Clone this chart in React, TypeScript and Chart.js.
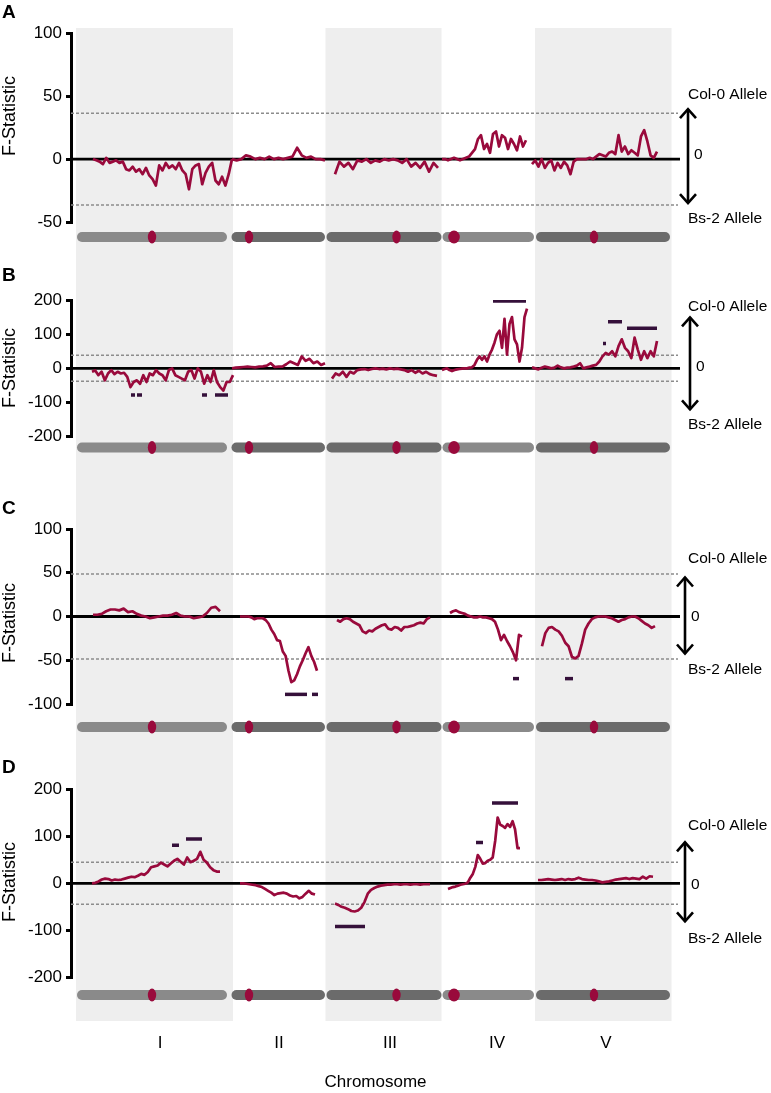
import React, { useEffect, useRef } from "react";
import { Chart, registerables } from "chart.js";

Chart.register(...registerables);

const FONT = "'Liberation Sans', Arial, Helvetica, sans-serif";
const TRACE_COLOR = "#990a3c";
const QTL_COLOR = "#35103a";
const BAND_COLOR = "#eeeeee";
const THRESH_COLOR = "#8c8c8c";

// ---- Genome axis (concatenated chromosomes, Mb-like units) ----
const CHROMOSOMES = ["I", "II", "III", "IV", "V"];
const CHROM_START = [0.2, 31.1, 50.1, 73.3, 92.0];
const CHROM_END = [30.2, 49.8, 73.1, 91.6, 118.8];
const CENTROMERE = [15.2, 34.6, 64.1, 75.6, 103.6];
const CHROM_LABEL_POS = [16.8, 40.6, 62.8, 84.2, 106.0];
const SHADE_START = [0, 49.9, 91.8];
const SHADE_END = [31.4, 73.1, 119.1];
const X_MIN = -1;
const X_MAX = 120.8;

// ---- Panel A ----
const A_I = [0, -1, -2, -4, 1, -3, -2, -1, -3, -2, -8, -9, -6, -10, -8, -12, -7, -13, -16, -21, -5, -9, -3, -7, -5, -8, -3, -9, -12, -24, -8, -5, -4, -20, -11, -6, -3, -17, -20, -14, -21, -12, 0];
const A_II = [0, -1, 0, 3, 2, 0, 1, 0, 2, 0, 1, 0, 1, 2, 9, 3, 1, 2, 0, 0, -1];
const A_III = [-12, -2, -6, -3, -8, -1, -2, 0, -3, -1, -2, 0, -1, 0, -1, -3, 0, -6, -3, -7, -2, -10, -3, -7];
const A_IV = [0, 0, -1, 0, 1, 0, -1, 0, 1, 2, 5, 8, 16, 19, 8, 12, 5, 20, 22, 10, 19, 17, 8, 16, 12, 7, 18, 10, 15];
const A_V = [-4, -1, -6, 0, -7, -3, -1, -9, -3, -7, -2, -5, -12, -2, 0, 0, 0, 0, 1, 0, 2, 4, 3, 2, 5, 6, 4, 19, 6, 10, 4, 7, 5, 3, 18, 23, 14, 3, 1, 6];
const A_TRACE_START = [3.4, 31.2, 51.8, 73.2, 91.2];
const A_TRACE_END = [31.2, 49.8, 72.4, 90.0, 116.2];
const A_QTL_START: number[] = [];
const A_QTL_END: number[] = [];
const A_QTL_VALUE: number[] = [];
const A_TICKS = [-50, 0, 50, 100];

// ---- Panel B ----
const B_I = [-10, -6, -20, -10, -35, -15, -5, -17, -10, -15, -13, -25, -55, -40, -35, -45, -20, -40, -15, -20, -5, -15, -20, -35, -5, 0, -20, -25, -30, -35, -10, -5, -30, 0, -10, -45, -20, -40, -5, -40, -55, -65, -40, -40, -20];
const B_II = [0, 2, 3, 4, 5, 4, 3, 5, 6, 8, 15, 4, 5, 5, 12, 20, 15, 10, 35, 22, 28, 15, 20, 10, 15];
const B_III = [-30, -15, -20, -10, -25, -10, -15, -5, -3, -2, -5, -2, 0, -2, -1, -3, 0, -2, -1, -3, -5, -10, -5, -13, -7, -15, -10, -17, -20, -22];
const B_IV = [-5, -2, 0, -5, -8, -5, -3, -2, -1, 0, 0, 2, 3, 10, 25, 35, 25, 35, 20, 40, 55, 75, 100, 110, 60, 145, 40, 130, 150, 85, 70, 20, 60, 150, 175];
const B_V = [3, 0, -3, 2, 5, 3, 0, 2, 8, 3, 0, 2, 3, 5, 8, 15, 0, 3, 5, 8, 10, 20, 35, 45, 40, 50, 35, 65, 85, 60, 50, 30, 90, 55, 25, 50, 30, 50, 35, 80];
const B_TRACE_START = [3.2, 31.2, 51.2, 73.2, 91.2];
const B_TRACE_END = [31.4, 49.8, 72.2, 90.2, 116.2];
const B_QTL_START = [11, 12.2, 25.2, 27.8, 83.4, 105.4, 106.4, 110.2];
const B_QTL_END = [11.8, 13.2, 26.2, 30.4, 90, 106, 109.2, 116.2];
const B_QTL_VALUE = [-78, -78, -78, -78, 197, 73, 136, 117];
const B_TICKS = [-200, -100, 0, 100, 200];

// ---- Panel C ----
const C_I = [2, 2, 3, 6, 8, 8, 7, 9, 5, 6, 3, 1, 0, -2, -1, 0, 1, 1, 2, 4, 1, 0, 0, -2, -1, 0, 4, 10, 11, 6];
const C_II = [0, 0, 0, 0, -1, -3, -2, -2, -2, -4, -8, -15, -20, -27, -28, -40, -45, -62, -75, -73, -66, -57, -50, -42, -35, -45, -52, -62];
const C_III = [-4, -6, -3, -2, -3, -6, -8, -10, -17, -19, -16, -17, -14, -12, -10, -9, -14, -15, -12, -13, -16, -12, -12, -11, -10, -8, -7, -8, -3, -1];
const C_IV = [4, 6, 7, 5, 4, 3, 1, 0, -1, -1, 0, -1, -1, -2, -3, -6, -15, -27, -21, -28, -34, -41, -50, -21, -23];
const C_V = [-34, -19, -13, -12, -15, -17, -22, -30, -34, -46, -48, -45, -31, -15, -8, -3, -1, 0, 0, 0, -1, -2, -4, -6, -4, -3, -1, 0, 0, -2, -5, -8, -10, -13, -11];
const C_TRACE_START = [3.4, 32.8, 52.2, 74.8, 93.2];
const C_TRACE_END = [28.8, 48.2, 70.8, 89.2, 115.8];
const C_QTL_START = [41.8, 47.2, 87.4, 97.8];
const C_QTL_END = [46.2, 48.4, 88.6, 99.4];
const C_QTL_VALUE = [-89, -89, -71, -71];
const C_TICKS = [-100, -50, 0, 50, 100];

// ---- Panel D ----
const D_I = [0, 1, 4, 8, 10, 9, 6, 8, 7, 8, 10, 12, 14, 13, 16, 20, 18, 24, 34, 36, 38, 44, 40, 36, 42, 48, 52, 46, 40, 55, 45, 48, 52, 67, 50, 44, 34, 28, 25, 25];
const D_II = [0, 0, -1, -2, -3, -4, -6, -8, -12, -16, -20, -25, -22, -21, -20, -22, -26, -28, -27, -32, -29, -22, -16, -22, -24];
const D_III = [-43, -46, -50, -52, -55, -59, -60, -58, -52, -40, -22, -14, -10, -7, -5, -4, -3, -3, -2, -2, -3, -2, -2, -3, -2, -2, -3, -2, -2, -2];
const D_IV = [-12, -10, -8, -7, -5, -3, -2, -1, 2, 12, 20, 35, 60, 52, 42, 43, 48, 50, 55, 90, 140, 125, 122, 118, 126, 120, 132, 115, 75, 75];
const D_V = [7, 7, 8, 9, 8, 7, 8, 9, 7, 9, 8, 9, 12, 9, 8, 7, 7, 6, 4, 2, 3, 4, 6, 8, 9, 10, 11, 9, 11, 10, 9, 14, 10, 15, 14];
const D_TRACE_START = [3.2, 32.8, 51.8, 74.4, 92.4];
const D_TRACE_END = [28.8, 47.8, 70.8, 88.8, 115.4];
const D_QTL_START = [19.2, 22, 51.8, 80, 83.2];
const D_QTL_END = [20.6, 25.2, 57.8, 81.4, 88.4];
const D_QTL_VALUE = [81, 94, -92, 87, 171];
const D_TICKS = [-200, -100, 0, 100, 200];

// styles for ideograms
const IDEO_COLORS = ["#8a8a8a", "#6b6b6b", "#6b6b6b", "#8a8a8a", "#6b6b6b"];
const CENTRO_RX = [4.2, 4.2, 4.2, 5.8, 4.2];

type Panel = {
  letter: string;
  top: number;
  height: number;
  yMin: number;
  yMax: number;
  ticks: number[];
  threshold: number;
  series: number[][];
  starts: number[];
  ends: number[];
  qStart: number[];
  qEnd: number[];
  qVal: number[];
  padTop: number;
  padBottom: number;
  xHeight: number;
  showX: boolean;
  ideoY: number;
  bandTop: number;
  bandBottom: number;
  letterY: number;
  titleY: number;
  annCol: number;
  annTop: number;
  annBot: number;
  annZero: number;
  annBs: number;
  arrowX: number;
};

const PANELS: Panel[] = [
  {
    letter: "A", top: 0, height: 250, yMin: -50, yMax: 100, ticks: A_TICKS, threshold: 36.5,
    series: [A_I, A_II, A_III, A_IV, A_V], starts: A_TRACE_START, ends: A_TRACE_END,
    qStart: A_QTL_START, qEnd: A_QTL_END, qVal: A_QTL_VALUE,
    padTop: 33.3, padBottom: 28, xHeight: 0, showX: false, ideoY: 237, bandTop: 28, bandBottom: 250,
    letterY: 13, titleY: 116, annCol: -64, annTop: -51, annBot: 45, annZero: -4, annBs: 60, arrowX: 688,
  },
  {
    letter: "B", top: 250, height: 230, yMin: -200, yMax: 200, ticks: B_TICKS, threshold: 38,
    series: [B_I, B_II, B_III, B_IV, B_V], starts: B_TRACE_START, ends: B_TRACE_END,
    qStart: B_QTL_START, qEnd: B_QTL_END, qVal: B_QTL_VALUE,
    padTop: 50, padBottom: 43.3, xHeight: 0, showX: false, ideoY: 197.5, bandTop: 0, bandBottom: 230,
    letterY: 26, titleY: 118, annCol: -62, annTop: -52, annBot: 42, annZero: -2, annBs: 56, arrowX: 690,
  },
  {
    letter: "C", top: 480, height: 260, yMin: -100, yMax: 100, ticks: C_TICKS, threshold: 48.7,
    series: [C_I, C_II, C_III, C_IV, C_V], starts: C_TRACE_START, ends: C_TRACE_END,
    qStart: C_QTL_START, qEnd: C_QTL_END, qVal: C_QTL_VALUE,
    padTop: 49, padBottom: 36, xHeight: 0, showX: false, ideoY: 247, bandTop: 0, bandBottom: 260,
    letterY: 29, titleY: 143, annCol: -58, annTop: -40, annBot: 38, annZero: 0, annBs: 53, arrowX: 685,
  },
  {
    letter: "D", top: 740, height: 353, yMin: -200, yMax: 200, ticks: D_TICKS, threshold: 44.7,
    series: [D_I, D_II, D_III, D_IV, D_V], starts: D_TRACE_START, ends: D_TRACE_END,
    qStart: D_QTL_START, qEnd: D_QTL_END, qVal: D_QTL_VALUE,
    padTop: 49.3, padBottom: 0, xHeight: 115.7, showX: true, ideoY: 255, bandTop: 0, bandBottom: 281,
    letterY: 28, titleY: 142, annCol: -58, annTop: -42, annBot: 39, annZero: 1, annBs: 55, arrowX: 685,
  },
];

function traceData(values: number[], start: number, end: number) {
  const n = values.length;
  return values.map((v, i) => ({ x: start + ((end - start) * i) / (n - 1), y: v }));
}

function roundedBar(ctx: CanvasRenderingContext2D, x0: number, x1: number, yc: number, h: number) {
  const r = h / 2;
  ctx.beginPath();
  ctx.moveTo(x0 + r, yc - r);
  ctx.lineTo(x1 - r, yc - r);
  ctx.arc(x1 - r, yc, r, -Math.PI / 2, Math.PI / 2);
  ctx.lineTo(x0 + r, yc + r);
  ctx.arc(x0 + r, yc, r, Math.PI / 2, (3 * Math.PI) / 2);
  ctx.closePath();
  ctx.fill();
}

function makePlugin(p: Panel) {
  return {
    id: "decor" + p.letter,
    beforeDraw(chart: any) {
      const { ctx } = chart;
      const xs = chart.scales.x;
      ctx.save();
      ctx.fillStyle = BAND_COLOR;
      for (let i = 0; i < SHADE_START.length; i++) {
        const x0 = xs.getPixelForValue(SHADE_START[i]);
        const x1 = xs.getPixelForValue(SHADE_END[i]);
        ctx.fillRect(x0, p.bandTop, x1 - x0, p.bandBottom - p.bandTop);
      }
      ctx.restore();
    },
    afterDatasetsDraw(chart: any) {
      const { ctx } = chart;
      const xs = chart.scales.x;
      ctx.save();
      for (let i = 0; i < CHROMOSOMES.length; i++) {
        const x0 = xs.getPixelForValue(CHROM_START[i]);
        const x1 = xs.getPixelForValue(CHROM_END[i]);
        ctx.fillStyle = IDEO_COLORS[i];
        roundedBar(ctx, x0, x1, p.ideoY, 10);
        const cx = xs.getPixelForValue(CENTROMERE[i]);
        ctx.fillStyle = TRACE_COLOR;
        ctx.beginPath();
        ctx.ellipse(cx, p.ideoY, CENTRO_RX[i], 6.5, 0, 0, Math.PI * 2);
        ctx.fill();
      }
      ctx.restore();
    },
    afterDraw(chart: any) {
      const { ctx } = chart;
      const ys = chart.scales.y;
      const y0 = ys.getPixelForValue(0);
      ctx.save();
      ctx.fillStyle = "#000";
      // panel letter
      ctx.font = `bold 19px ${FONT}`;
      ctx.textAlign = "left";
      ctx.textBaseline = "middle";
      ctx.fillText(p.letter, 2, p.letterY);
      // y title
      ctx.save();
      ctx.translate(10, p.titleY);
      ctx.rotate(-Math.PI / 2);
      ctx.font = `18px ${FONT}`;
      ctx.textAlign = "center";
      ctx.textBaseline = "middle";
      ctx.fillText("F-Statistic", 0, 0);
      ctx.restore();
      // right annotations
      ctx.font = `15.5px ${FONT}`;
      ctx.textAlign = "left";
      ctx.textBaseline = "middle";
      ctx.fillText("Col-0 Allele", 688, y0 + p.annCol);
      ctx.fillText("0", p.arrowX + 6, y0 + p.annZero);
      ctx.fillText("Bs-2 Allele", 688, y0 + p.annBs);
      // double arrow
      const ax = p.arrowX;
      const yt = y0 + p.annTop;
      const yb = y0 + p.annBot;
      ctx.strokeStyle = "#000";
      ctx.lineWidth = 2.6;
      ctx.lineCap = "butt";
      ctx.beginPath();
      ctx.moveTo(ax, yt + 1);
      ctx.lineTo(ax, yb - 1);
      ctx.stroke();
      ctx.lineJoin = "miter";
      ctx.beginPath();
      ctx.moveTo(ax - 8, yt + 10);
      ctx.lineTo(ax, yt + 1);
      ctx.lineTo(ax + 8, yt + 10);
      ctx.stroke();
      ctx.beginPath();
      ctx.moveTo(ax - 8, yb - 10);
      ctx.lineTo(ax, yb - 1);
      ctx.lineTo(ax + 8, yb - 10);
      ctx.stroke();
      ctx.restore();
    },
  };
}

function buildConfig(p: Panel): any {
  const datasets: any[] = [];
  p.series.forEach((vals, i) => {
    datasets.push({
      label: "F " + CHROMOSOMES[i],
      data: traceData(vals, p.starts[i], p.ends[i]),
      borderColor: TRACE_COLOR,
      borderWidth: 2.7,
      pointRadius: 0,
      tension: 0,
      borderJoinStyle: "round",
      fill: false,
      order: 0,
    });
  });
  p.qStart.forEach((s, i) => {
    datasets.push({
      label: "QTL",
      data: [
        { x: s, y: p.qVal[i] },
        { x: p.qEnd[i], y: p.qVal[i] },
      ],
      borderColor: QTL_COLOR,
      borderWidth: 3.5,
      borderCapStyle: "butt",
      pointRadius: 0,
      fill: false,
      order: 0,
    });
  });
  datasets.push({
    label: "zero",
    data: [
      { x: X_MIN, y: 0 },
      { x: X_MAX, y: 0 },
    ],
    borderColor: "#000",
    borderWidth: 2.8,
    pointRadius: 0,
    fill: false,
    order: 1,
  });
  [p.threshold, -p.threshold].forEach((t) => {
    datasets.push({
      label: "threshold",
      data: [
        { x: X_MIN, y: t },
        { x: X_MAX - 0.4, y: t },
      ],
      borderColor: THRESH_COLOR,
      borderWidth: 1.5,
      borderDash: [3, 2],
      pointRadius: 0,
      fill: false,
      order: 2,
    });
  });

  return {
    type: "line",
    data: { datasets },
    options: {
      animation: false,
      responsive: false,
      maintainAspectRatio: false,
      events: [],
      layout: { padding: { top: p.padTop, bottom: p.padBottom, left: 0, right: 91 } },
      plugins: { legend: { display: false }, tooltip: { enabled: false } },
      scales: {
        x: {
          type: "linear",
          min: X_MIN,
          max: X_MAX,
          display: p.showX,
          afterBuildTicks: (s: any) => {
            s.ticks = CHROM_LABEL_POS.map((v) => ({ value: v }));
          },
          afterFit: (s: any) => {
            if (p.showX) s.height = p.xHeight;
          },
          grid: { display: false, drawTicks: false },
          border: { display: false },
          ticks: {
            autoSkip: false,
            maxRotation: 0,
            minRotation: 0,
            padding: 55.5,
            color: "#000",
            font: { family: FONT, size: 17 },
            callback: (_v: any, i: number) => CHROMOSOMES[i],
          },
          title: {
            display: true,
            text: "Chromosome",
            color: "#000",
            font: { family: FONT, size: 17 },
            padding: 0,
          },
        },
        y: {
          type: "linear",
          min: p.yMin,
          max: p.yMax,
          afterBuildTicks: (s: any) => {
            s.ticks = p.ticks.map((v) => ({ value: v }));
          },
          afterFit: (s: any) => {
            s.width = 71;
          },
          border: { display: true, color: "#000", width: 3 },
          grid: { display: true, drawOnChartArea: false, drawTicks: true, tickLength: 5, lineWidth: 3, color: "#000" },
          ticks: { color: "#000", padding: 4, font: { family: FONT, size: 17 } },
        },
      },
    },
    plugins: [makePlugin(p)],
  };
}

function PanelChart({ p }: { p: Panel }) {
  const ref = useRef<HTMLCanvasElement>(null);
  useEffect(() => {
    const chart = new Chart(ref.current as HTMLCanvasElement, buildConfig(p));
    return () => chart.destroy();
  }, [p]);
  return (
    <canvas
      ref={ref}
      width={771}
      height={p.height}
      style={{ position: "absolute", left: 0, top: p.top, width: 771, height: p.height }}
    />
  );
}

export default function App() {
  return (
    <div style={{ position: "absolute", left: 0, top: 0, width: 771, height: 1093, background: "#fff" }}>
      {PANELS.map((p) => (
        <PanelChart key={p.letter} p={p} />
      ))}
    </div>
  );
}
